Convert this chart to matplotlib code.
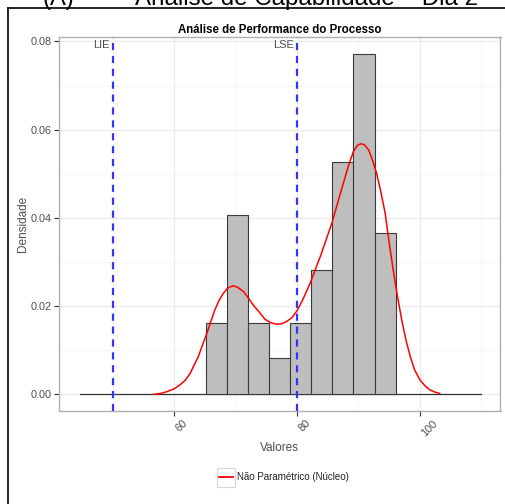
import matplotlib
matplotlib.use("Agg")
import matplotlib.pyplot as plt
from matplotlib.lines import Line2D
from matplotlib.patches import Rectangle
import numpy as np

plt.rcParams['font.family'] = ['Liberation Sans', 'DejaVu Sans']

# ---- data ----
bin_edges = [65.1, 68.6, 72.1, 75.4, 78.8, 82.3, 85.8, 89.2, 92.7, 96.2]
bar_density = [0.0162, 0.0406, 0.0162, 0.0082, 0.0162, 0.0283, 0.0527, 0.0771, 0.0365]

kde_x = [56.6, 57.8, 58.8, 59.9, 60.9, 61.8, 62.6, 63.9, 65.3, 66.6, 67.3, 68.0, 68.6, 69.0,
         69.6, 70.3, 71.3, 72.1, 72.9, 74.0, 74.8, 75.8, 76.7, 77.5, 78.3, 79.2, 80.0, 81.0,
         82.1, 83.8, 85.7, 86.6, 87.6, 88.4, 89.2, 89.7, 90.0, 90.5, 91.0, 91.7, 92.3, 93.0,
         93.7, 94.4, 95.0, 95.7, 96.4, 97.1, 97.8, 98.5, 99.2, 100.1, 100.9, 101.7, 102.5,
         103.3]
kde_y = [0.0000, 0.0002, 0.0006, 0.0012, 0.0021, 0.0032, 0.0048, 0.0085, 0.0138, 0.0191,
         0.0213, 0.0229, 0.0239, 0.0243, 0.0246, 0.0243, 0.0233, 0.0218, 0.0202, 0.0184,
         0.0170, 0.0162, 0.0159, 0.0160, 0.0165, 0.0174, 0.0189, 0.0216, 0.0250, 0.0312,
         0.0388, 0.0432, 0.0480, 0.0518, 0.0550, 0.0561, 0.0566, 0.0568, 0.0566, 0.0554,
         0.0532, 0.0501, 0.0458, 0.0410, 0.0348, 0.0282, 0.0222, 0.0168, 0.0122, 0.0085,
         0.0055, 0.0032, 0.0019, 0.0010, 0.0005, 0.0002]

spec_limits = [50, 80]
spec_labels = ["LIE", "LSE"]
baseline_range = [44.6, 110.0]

x_major = [60, 80, 100]
x_minor = [50, 70, 90, 110]
y_major = [0.00, 0.02, 0.04, 0.06, 0.08]
y_minor = [0.01, 0.03, 0.05, 0.07]

title = "Análise de Performance do Processo"
outer_title_a = "(A)"
outer_title_b = "Análise de Capabilidade – Dia 2"
xlabel = "Valores"
ylabel = "Densidade"
legend_label = "Não Paramétrico (Núcleo)"

# ---- figure ----
W, H = 506, 504
fig = plt.figure(figsize=(W / 100, H / 100), dpi=100)
fig.patch.set_facecolor('white')

ax = fig.add_axes([59 / W, 1 - 410.5 / H, (500.5 - 59) / W, (410.5 - 37) / H])
ax.set_xlim(41.2, 113.2)
ax.set_ylim(-0.00367, 0.08102)

ax.set_xticks(x_major)
ax.set_xticks(x_minor, minor=True)
ax.set_yticks(y_major)
ax.set_yticks(y_minor, minor=True)
ax.grid(True, which='major', color='#ebebeb', linewidth=0.9, zorder=0)
ax.grid(True, which='minor', color='#f5f5f5', linewidth=0.7, zorder=0)
ax.set_axisbelow(True)

for s in ax.spines.values():
    s.set_color('#b0b0b0')
    s.set_linewidth(1.0)

ax.tick_params(which='major', length=3.5, width=0.8, color='#333333', labelcolor='#4d4d4d',
               labelsize=7.8, pad=2)
ax.tick_params(which='minor', length=0)
ax.set_yticklabels([f"{v:.2f}" for v in y_major])
ax.set_xticklabels([str(v) for v in x_major], rotation=45, ha='left', va='top',
                   rotation_mode='default')

# baseline
ax.plot(baseline_range, [0, 0], color='#333333', linewidth=0.9, zorder=2)

# histogram
widths = np.diff(bin_edges)
ax.bar(bin_edges[:-1], bar_density, width=widths, align='edge', color='#bebebe',
       edgecolor='#3a3a3a', linewidth=0.8, zorder=3)

# spec limits
for xv, lab in zip(spec_limits, spec_labels):
    ax.axvline(xv, color='#3333ff', linestyle=(0, (3.2, 2.6)), linewidth=1.6, zorder=5)
    ax.text(xv - 0.5, 0.0792, lab, ha='right', va='center', fontsize=8, color='#4d4d4d',
            zorder=6)

# kde curve
ax.plot(kde_x, kde_y, color='#ff0000', linewidth=1.1, zorder=6, label=legend_label,
        solid_joinstyle='round', solid_capstyle='round')

ax.set_title(title, fontsize=8.3, fontweight='bold', color='black', pad=3)
ax.set_xlabel(xlabel, fontsize=8.5, color='#4d4d4d', labelpad=3)
ax.set_ylabel(ylabel, fontsize=8.5, color='#4d4d4d')
ax.yaxis.set_label_coords(-0.069, 0.5)

# legend (key box drawn behind the legend handle)
fig.add_artist(Rectangle((217 / W, 1 - 487 / H), 18 / W, 19 / H, transform=fig.transFigure,
                         facecolor='white', edgecolor='#d6d6d6', linewidth=0.8))
leg = fig.legend(handles=[Line2D([], [], color='#ff0000', linewidth=1.3)],
                 labels=[legend_label], loc='center left',
                 bbox_to_anchor=(219 / W, 1 - 477 / H), frameon=False, fontsize=7,
                 handlelength=1.45, handletextpad=0.4, borderaxespad=0, borderpad=0)
for t in leg.get_texts():
    t.set_color('#222222')

# outer frame lines and clipped outer title
fig.add_artist(Line2D([8 / W, 8 / W], [0, 1 - 8 / H], transform=fig.transFigure,
                      color='black', linewidth=1.2))
fig.add_artist(Line2D([8 / W, 1], [1 - 8 / H, 1 - 8 / H], transform=fig.transFigure,
                      color='black', linewidth=1.2))
fig.text(43 / W, 1 - 4.5 / H, outer_title_a, fontsize=17, ha='left', va='baseline',
         color='black')
fig.text(135 / W, 1 - 4.5 / H, outer_title_b, fontsize=17.4, ha='left', va='baseline',
         color='black')

fig.savefig("out.png", dpi=100, facecolor='white')
